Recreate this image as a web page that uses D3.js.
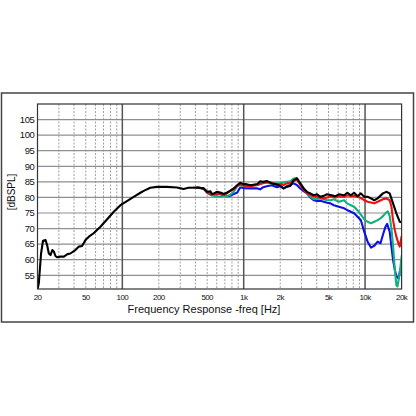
<!DOCTYPE html>
<html><head><meta charset="utf-8">
<script src="https://cdn.jsdelivr.net/npm/d3@7"></script>
<style>body{margin:0;background:#fff}svg{display:block}text{font-family:"Liberation Sans",Arial,sans-serif;fill:#111}</style>
</head><body><div id="c"></div>
<script>
// ---- data ----
const blackFreq = [20,20.5,21.4,22.2,23.3,24,24.8,25.6,26.5,27.3,28.1,29,31,33,35.3,37.3,41,43.7,46.6,49.7,53,58,66,75,85,96.5,110,124,141,150,170,193,233,282,320,350,410,466,503,532,546,567,605,646,684,725,770,828,881,937,1000,1035,1142,1297,1368,1447,1550,1702,1878,2001,2133,2274,2420,2575,2743,2924,3116,3322,3540,3773,4020,4286,4566,4867,5187,5528,5711,6086,6720,7160,7630,8130,8670,9240,9840,10490,11180,11910,12690,14040,14960,15950,17000,18110,19300,20570];
const blackDb = [50.4,52.4,62,66.1,66.3,64.7,62,61.5,63.1,62.6,61.2,60.8,61,61,61.8,62,63.1,64.2,64.4,66.3,67.4,68.5,70.6,73,75.4,77.5,78.9,80.2,81.5,82.1,83.1,83.4,83.4,83.2,82.7,83.1,83.2,82.9,81.8,82.0,81.1,81.3,81.8,81.5,81.1,81.5,82.1,82.9,83.9,84.7,84.2,84.3,83.9,84.3,85.2,85.0,85.3,84.5,84.2,83.7,82.9,83.4,83.7,85.5,86.1,84.5,82.9,81.8,81.3,80.7,81.0,80.2,80.5,81.0,80.8,80.5,80.4,81.0,80.7,81.5,80.7,81.5,80.4,81.3,80.2,80.2,79.7,79.1,79.7,81.3,81.8,81.3,78.1,74.9,72.2,71.9];

const redFreq = [410,466,503,546,605,646,684,725,770,828,881,937,1000,1142,1297,1447,1550,1702,1878,2001,2133,2274,2420,2575,2743,2924,3116,3322,3540,3773,4020,4286,4566,4867,5187,5711,6086,6720,7160,7630,8130,8670,9240,9840,10490,11180,11910,12690,14040,14960,15950,16500,17000,17600,18110,18900,19300,20000,20570];
const redDb = [83.2,82.9,81.5,80.9,81.3,81.0,80.7,81.3,82.0,82.6,83.6,84.3,83.8,83.6,84.0,84.6,84.9,84.7,83.9,84.3,84.0,84.5,84.6,85.3,85.8,84.0,82.5,81.3,80.8,80.4,80.2,79.9,79.7,80.0,80.4,80.0,80.4,80.2,80.7,80.4,80.5,80.2,79.8,79.1,78.6,78.4,78.1,78.6,79.4,79.7,79.1,77.0,72.7,69.5,67.4,65.0,64.2,67.5,68.5];

const greenFreq = [410,466,503,546,605,646,684,725,770,828,881,937,1000,1142,1297,1447,1550,1702,1878,2001,2274,2420,2575,2743,2924,3116,3322,3540,3773,4020,4286,4566,4867,5187,5528,6086,6720,7160,7630,8130,8670,9240,9840,10490,11180,11910,12690,13400,14040,14960,15400,15950,16500,17000,17600,18110,18500,19300,20000,20570];
const greenDb = [83.2,82.9,81.3,80.6,80.4,80.3,80.6,80.4,80.8,81.8,83.6,84.0,83.6,83.9,84.0,84.6,84.8,84.5,84.5,84.6,85.0,85.2,86.1,86.2,84.6,83.0,81.3,80.3,79.4,79.6,79.7,79.4,79.1,79.1,79.4,78.6,79.1,78.0,77.5,77.0,75.8,74.5,73.0,72.2,71.7,72.2,72.7,73.3,74.0,75.2,75.5,74.0,70.0,64.5,56.7,51.8,51.4,55.6,61.0,63.0];

const blueFreq = [410,466,503,546,605,646,684,725,770,828,881,937,1000,1142,1297,1368,1447,1550,1702,1878,2001,2133,2274,2420,2575,2743,2924,3116,3322,3540,3773,4020,4286,4566,4867,5187,5528,6086,6720,7160,7630,8130,8670,9240,9840,10490,11180,11910,12690,13400,14040,14700,15200,15950,16500,17000,17600,18110,18900,19500,20000,20570];
const blueDb = [83.2,82.9,81.6,81.0,81.0,81.5,81.0,80.4,80.5,81.1,81.5,83.2,83.0,82.9,82.9,82.6,83.3,83.6,83.9,83.3,83.6,82.9,83.6,84.0,84.5,84.0,82.9,82.0,81.3,80.0,79.1,78.9,78.9,78.6,78.3,78.1,77.5,77.0,76.5,75.9,75.4,74.9,73.8,72.7,69.0,65.8,63.9,64.5,65.8,65.3,68.0,70.5,71.5,69.0,64.2,60.0,56.7,54.6,54.0,57.0,56.5,56.2];

const yTicks = [55,60,65,70,75,80,85,90,95,100,105];
const xTickValues = [20,50,100,200,500,1000,2000,5000,10000,20000];
const xTickLabels = ["20","50","100","200","500","1k","2k","5k","10k","20k"];
const majorFreqs = [100,1000,10000];

// ---- chart ----
const W = 416, H = 416;
const L = 37.5, R = 401.6, T = 104, B = 289;
const svg = d3.select("#c").append("svg").attr("width", W).attr("height", H);

const x = d3.scaleLog().domain([20, 20000]).range([L, R]);
const y = d3.scaleLinear().domain([50.6, 110]).range([B, T]);

// outer frame
svg.append("rect").attr("x", 1.5).attr("y", 93).attr("width", 412).attr("height", 229)
  .attr("fill", "none").attr("stroke", "#444").attr("stroke-width", 1.5);

// minor vertical grid
const minor = [];
[10,100,1000,10000].forEach(d => { for (let k = 2; k <= 9; k++) { const f = d*k; if (f > 20 && f < 20000) minor.push(f); } });
svg.append("g").selectAll("line").data(minor.filter(f => !majorFreqs.includes(f))).join("line")
  .attr("x1", d => x(d)).attr("x2", d => x(d)).attr("y1", T).attr("y2", B)
  .attr("stroke", "#a0a0a0").attr("stroke-width", 1).attr("stroke-dasharray", "2,1.5");

// horizontal grid
svg.append("g").selectAll("line").data(yTicks).join("line")
  .attr("x1", L).attr("x2", R).attr("y1", d => y(d)).attr("y2", d => y(d))
  .attr("stroke", "#8f8f8f").attr("stroke-width", 1.2);

// major vertical grid
svg.append("g").selectAll("line").data(majorFreqs).join("line")
  .attr("x1", d => x(d)).attr("x2", d => x(d)).attr("y1", T).attr("y2", B)
  .attr("stroke", "#555").attr("stroke-width", 1.5);

// clip
svg.append("clipPath").attr("id", "clip").append("rect").attr("x", L).attr("y", T).attr("width", R - L).attr("height", B - T);

const line = d3.line().x(d => x(d[0])).y(d => y(d[1]));
const series = [
  {f: blueFreq, v: blueDb, c: "#0a10e8"},
  {f: greenFreq, v: greenDb, c: "#12b07a"},
  {f: redFreq, v: redDb, c: "#ee1010"},
  {f: blackFreq, v: blackDb, c: "#000"}
];
const gl = svg.append("g").attr("clip-path", "url(#clip)");
series.forEach(s => {
  gl.append("path").datum(s.f.map((f, i) => [f, s.v[i]]))
    .attr("d", line).attr("fill", "none").attr("stroke", s.c)
    .attr("stroke-width", 2.1).attr("stroke-linejoin", "round");
});

// plot frame
svg.append("rect").attr("x", L).attr("y", T).attr("width", R - L).attr("height", B - T)
  .attr("fill", "none").attr("stroke", "#333").attr("stroke-width", 1.2);

// y labels
svg.append("g").selectAll("text").data(yTicks).join("text")
  .attr("x", 34.5).attr("y", d => y(d) + 3.3).attr("text-anchor", "end")
  .attr("font-size", "9.5px").attr("letter-spacing", "-0.4px").text(d => d);

// x labels
svg.append("g").selectAll("text").data(xTickValues).join("text")
  .attr("x", d => x(d)).attr("y", 300).attr("text-anchor", "middle")
  .attr("font-size", "8px").attr("letter-spacing", "-0.6px").text((d, i) => xTickLabels[i]);

// titles
svg.append("text").attr("x", 204).attr("y", 313).attr("text-anchor", "middle")
  .attr("font-size", "11px").text("Frequency Response -freq [Hz]");
svg.append("text").attr("transform", "translate(15,192) rotate(-90)").attr("text-anchor", "middle")
  .attr("font-size", "10px").text("[dBSPL]");
</script></body></html>
